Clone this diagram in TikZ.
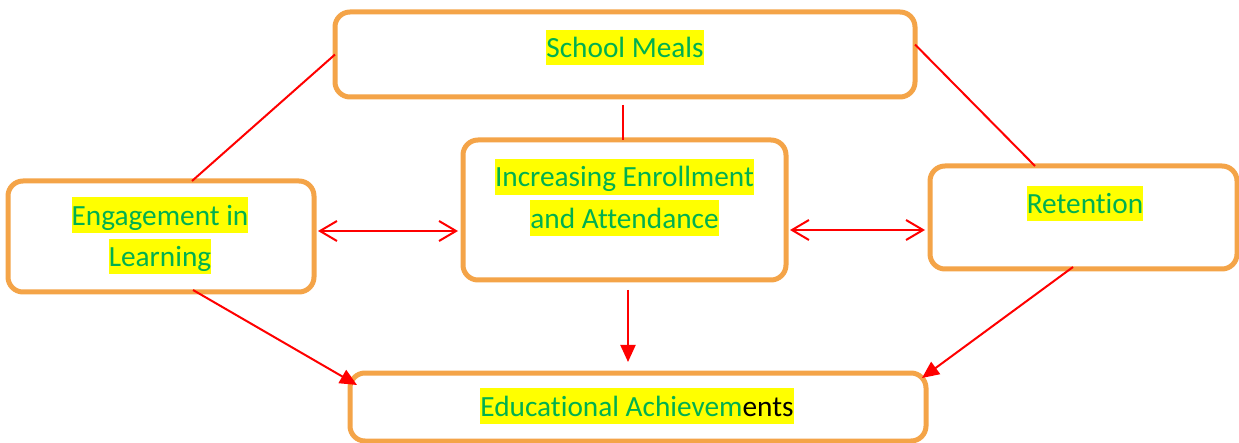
\documentclass[tikz,border=0pt]{standalone}
\usepackage{fontspec}
\setmainfont{Carlito}[Ligatures=NoCommon]
\usetikzlibrary{arrows.meta}

\definecolor{boxorange}{HTML}{F4A448}
\definecolor{txtgreen}{HTML}{00B050}
\definecolor{hlyellow}{HTML}{FFFF00}
\definecolor{linkred}{HTML}{FF0000}

% highlighted text run, as tall as one line of the font
\newcommand\hl[1]{{\setlength\fboxsep{0pt}\colorbox{hlyellow}{\rule[-0.269em]{0pt}{1.221em}#1}}}

\begin{document}
\begin{tikzpicture}[x=1pt,y=-1pt,
  card/.style={draw=boxorange, line width=5pt, rounded corners=15pt, fill=white,
               inner sep=0pt, outer sep=0pt},
  caption/.style={inner sep=0pt, align=center, text=txtgreen,
                  font=\fontsize{29.3}{41.5}\selectfont},
  link/.style={draw=linkred, line width=2pt},
  both/.style={link, {Straight Barb[length=17pt,width=20pt]}-{Straight Barb[length=17pt,width=20pt]}},
  lead/.style={link, -{Triangle[length=17pt,width=15pt]}}]

\useasboundingbox (0,0) rectangle (1239,443);

% boxes
\node[card, minimum width=580pt, minimum height=85pt]  (meals)   at (625,54.5) {};
\node[card, minimum width=306pt, minimum height=111pt] (engage)  at (161,236.5) {};
\node[card, minimum width=323pt, minimum height=140pt] (enroll)  at (624.5,210) {};
\node[card, minimum width=307pt, minimum height=103pt] (retain)  at (1083.5,217.5) {};
\node[card, minimum width=576pt, minimum height=68pt]  (achieve) at (638,407) {};

% captions
\node[caption] (mealsT)   at (625,47.5)    {\hl{School Meals}};
\node[caption] (engageT)  at (160,235.75)  {\hl{Engagement in}\\\hl{Learning}};
\node[caption] (enrollT)  at (624.5,197.5) {\hl{Increasing Enrollment}\\\hl{and Attendance}};
\node[caption] (retainT)  at (1085,203.5)  {\hl{Retention}};
\node[caption] (achieveT) at (637,406)     {\hl{Educational Achievem\textcolor{black}{ents}}};

% plain links from the top box
\draw[link] (meals.west) -- ([xshift=31pt]engage.north);
\draw[link] ([yshift=-8pt]meals.south -| 623,0) -- (623,0 |- enroll.north);
\draw[link] ([yshift=10pt]meals.east) -- ([xshift=-48.5pt]retain.north);

% two-way links
\draw[both] ([xshift=4pt,yshift=5.5pt]engage.east) -- ([xshift=-5pt,yshift=-21pt]enroll.west);
\draw[both] ([xshift=4pt,yshift=-20pt]enroll.east) -- ([xshift=-5pt,yshift=-12.5pt]retain.west);

% links into the bottom box
\draw[lead] ([xshift=32pt,yshift=2pt]engage.south) -- ([xshift=7pt,yshift=-12pt]achieve.north west);
\draw[lead] ([xshift=3.5pt,yshift=-10pt]enroll.south) -- ([xshift=-10pt,yshift=11pt]achieve.north);
\draw[lead] ([xshift=-10.5pt,yshift=2pt]retain.south) -- ([xshift=-4pt,yshift=-5pt]achieve.north east);
\end{tikzpicture}
\end{document}
